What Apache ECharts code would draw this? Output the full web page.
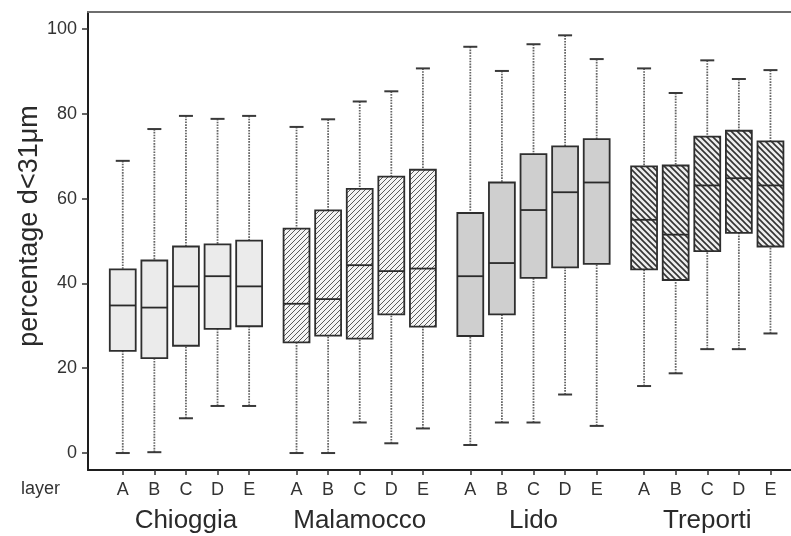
<!DOCTYPE html>
<html>
<head>
<meta charset="utf-8">
<script src="https://cdn.jsdelivr.net/npm/echarts@6/dist/echarts.min.js"></script>
<style>
  html, body { margin: 0; padding: 0; background: #fff; }
  #chart { width: 791px; height: 536px; }
</style>
</head>
<body>
<div id="chart"></div>
<script>
// sites and layers
var groups = ['Chioggia', 'Malamocco', 'Lido', 'Treporti']
var layers = ['A', 'B', 'C', 'D', 'E']
var groupStart = [1, 6.5, 12, 17.5]

// box plot stats per site (layers A..E)
var whiskerLow = [
  [0, 0.2, 8.2, 11.1, 11.1],
  [0, 0, 7.2, 2.3, 5.8],
  [1.9, 7.2, 7.2, 13.8, 6.4],
  [15.8, 18.8, 24.5, 24.5, 28.2]
]
var q1 = [
  [24.1, 22.4, 25.3, 29.3, 29.9],
  [26.1, 27.7, 27.0, 32.7, 29.8],
  [27.6, 32.7, 41.3, 43.8, 44.6],
  [43.3, 40.8, 47.6, 51.9, 48.7]
]
var median = [
  [34.8, 34.3, 39.3, 41.7, 39.3],
  [35.2, 36.3, 44.3, 42.9, 43.5],
  [41.7, 44.8, 57.3, 61.5, 63.8],
  [55.0, 51.5, 63.1, 64.8, 63.1]
]
var q3 = [
  [43.3, 45.4, 48.7, 49.2, 50.1],
  [52.9, 57.2, 62.3, 65.2, 66.8],
  [56.6, 63.8, 70.5, 72.3, 74.0],
  [67.6, 67.8, 74.6, 76.0, 73.5]
]
var whiskerHigh = [
  [68.9, 76.4, 79.5, 78.8, 79.5],
  [76.9, 78.7, 82.9, 85.3, 90.7],
  [95.8, 90.1, 96.4, 98.5, 92.9],
  [90.7, 84.9, 92.6, 88.2, 90.3]
]
var yTicks = [0, 20, 40, 60, 80, 100]

var FONT = 'Liberation Sans, Arial, sans-serif'

function makeHatch (dir, step, bg, ink, lw) {
  var c = document.createElement('canvas')
  c.width = step
  c.height = step
  var ctx = c.getContext('2d')
  ctx.fillStyle = bg
  ctx.fillRect(0, 0, step, step)
  ctx.strokeStyle = ink
  ctx.lineWidth = lw
  ctx.beginPath()
  if (dir > 0) {
    ctx.moveTo(-1, step + 1); ctx.lineTo(step + 1, -1)
    ctx.moveTo(-1, 1); ctx.lineTo(1, -1)
    ctx.moveTo(step - 1, step + 1); ctx.lineTo(step + 1, step - 1)
  } else {
    ctx.moveTo(-1, -1); ctx.lineTo(step + 1, step + 1)
    ctx.moveTo(step - 1, -1); ctx.lineTo(step + 1, 1)
    ctx.moveTo(-1, step - 1); ctx.lineTo(1, step + 1)
  }
  ctx.stroke()
  return c
}

var boxFills = [
  '#ebebeb',
  { image: makeHatch(1, 5, '#f4f4f4', '#5a5a5a', 1), repeat: 'repeat' },
  '#cfcfcf',
  { image: makeHatch(-1, 6, '#eeeeee', '#333', 1.6), repeat: 'repeat' }
]

// rows: [x, low, q1, median, q3, high, group]
var rows = []
var positions = []
for (var g = 0; g < groups.length; g++) {
  for (var i = 0; i < layers.length; i++) {
    var x = groupStart[g] + i
    positions.push(x)
    rows.push([x, whiskerLow[g][i], q1[g][i], median[g][i], q3[g][i], whiskerHigh[g][i], g])
  }
}
var groupCenters = groupStart.map(function (s) { return s + 2 })

function renderItem (params, api) {
  var x = api.value(0)
  var g = api.value(6)
  var lo = api.coord([x, api.value(1)])
  var b1 = api.coord([x, api.value(2)])
  var md = api.coord([x, api.value(3)])
  var b3 = api.coord([x, api.value(4)])
  var hi = api.coord([x, api.value(5)])
  var half = api.size([0.82, 0])[0] / 2
  var cap = 7
  var whisker = { stroke: '#666', lineWidth: 1.8, lineDash: [1.6, 1.2] }
  var capStyle = { stroke: '#3a3a3a', lineWidth: 2 }
  return {
    type: 'group',
    children: [
      { type: 'line', shape: { x1: hi[0], y1: hi[1], x2: b3[0], y2: b3[1] }, style: whisker },
      { type: 'line', shape: { x1: lo[0], y1: lo[1], x2: b1[0], y2: b1[1] }, style: whisker },
      { type: 'line', shape: { x1: hi[0] - cap, y1: hi[1], x2: hi[0] + cap, y2: hi[1] }, style: capStyle },
      { type: 'line', shape: { x1: lo[0] - cap, y1: lo[1], x2: lo[0] + cap, y2: lo[1] }, style: capStyle },
      {
        type: 'rect',
        shape: { x: b3[0] - half, y: b3[1], width: half * 2, height: b1[1] - b3[1] },
        style: { fill: boxFills[g], stroke: '#2e2e2e', lineWidth: 1.8 }
      },
      { type: 'line', shape: { x1: md[0] - half, y1: md[1], x2: md[0] + half, y2: md[1] }, style: { stroke: '#2a2a2a', lineWidth: 1.8 } }
    ]
  }
}

var xMin = -0.1
var xMax = 22.15

var chart = echarts.init(document.getElementById('chart'))
chart.setOption({
  animation: false,
  grid: { left: 88, right: 0, top: 12, bottom: 66 },
  xAxis: [
    {
      type: 'value', min: xMin, max: xMax, position: 'bottom',
      splitLine: { show: false },
      axisLine: { onZero: false, lineStyle: { color: '#1e1e1e', width: 2 } },
      axisTick: { customValues: positions, length: 5, lineStyle: { color: '#333', width: 1.5 } },
      axisLabel: {
        customValues: positions, margin: 11, color: '#333', fontSize: 18, fontFamily: FONT,
        formatter: function (v) {
          var k = positions.indexOf(v)
          return k < 0 ? '' : layers[k % layers.length]
        }
      }
    },
    {
      type: 'value', min: xMin, max: xMax, position: 'bottom',
      splitLine: { show: false },
      axisLine: { show: false, onZero: false },
      axisTick: { show: false },
      axisLabel: {
        customValues: groupCenters, margin: 38, color: '#2a2a2a', fontSize: 26, fontFamily: FONT,
        formatter: function (v) {
          var k = groupCenters.indexOf(v)
          return k < 0 ? '' : groups[k]
        }
      }
    },
    {
      type: 'value', min: xMin, max: xMax, position: 'top',
      splitLine: { show: false },
      axisLine: { onZero: false, lineStyle: { color: '#6e6e6e', width: 2 } },
      axisTick: { show: false },
      axisLabel: { show: false }
    }
  ],
  yAxis: {
    type: 'value', min: -4, max: 104,
    splitLine: { show: false },
    axisLine: { show: true, onZero: false, lineStyle: { color: '#1e1e1e', width: 2 } },
    axisTick: { show: true, customValues: yTicks, length: 6, lineStyle: { color: '#333', width: 1.5 } },
    axisLabel: { customValues: yTicks, margin: 11, color: '#333', fontSize: 18, fontFamily: FONT }
  },
  graphic: [
    {
      type: 'text', left: 21, top: 480,
      style: { text: 'layer', fill: '#333', font: '18px ' + FONT }
    },
    {
      type: 'text', x: 30, y: 226, rotation: Math.PI / 2,
      style: { text: 'percentage d<31\u03bcm', fill: '#2a2a2a', font: '27px ' + FONT, align: 'center', verticalAlign: 'middle' }
    }
  ],
  series: [{
    type: 'custom',
    renderItem: renderItem,
    encode: { x: 0, y: [1, 2, 3, 4, 5] },
    data: rows
  }]
})
</script>
</body>
</html>
